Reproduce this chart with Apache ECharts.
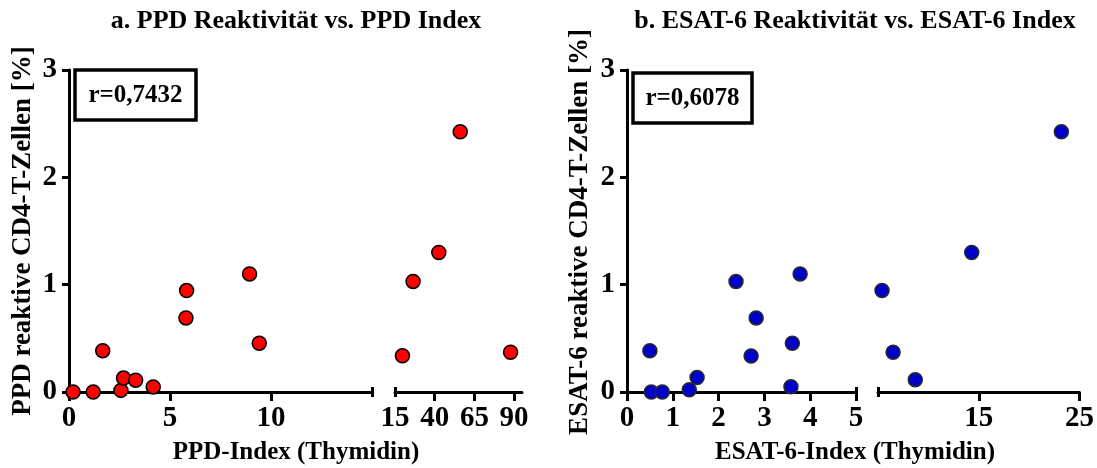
<!DOCTYPE html>
<html>
<head>
<meta charset="utf-8">
<script src="https://cdn.jsdelivr.net/npm/echarts@6/dist/echarts.min.js"></script>
<style>
  html,body{margin:0;padding:0;background:#fff;}
  #chart{width:1097px;height:468px;}
</style>
</head>
<body>
<div id="chart"></div>
<script>
// ---- data ----
const ppdIndex = [0.2, 1.2, 1.67, 2.57, 2.7, 3.3, 4.17, 5.82, 5.79, 8.94, 9.42, 19.7, 26.4, 42.6, 56.1, 87.8];
const ppdReact = [0, 0, 0.385, 0.015, 0.13, 0.11, 0.047, 0.945, 0.69, 1.10, 0.455, 0.337, 1.03, 1.30, 2.425, 0.37];
const esatIndex = [0.5, 0.53, 0.77, 1.36, 1.53, 2.38, 2.82, 2.71, 3.78, 3.61, 3.58, 5.4, 6.5, 8.7, 14.3, 23.2];
const esatReact = [0.385, 0, 0, 0.02, 0.135, 1.03, 0.69, 0.335, 1.10, 0.455, 0.048, 0.945, 0.37, 0.115, 1.30, 2.425];

const ppdBreak = 15, esatBreak = 5;
const ppdLowTicks = [0, 5, 10], ppdHighTicks = [40, 65, 90], ppdHighLabels = [15, 40, 65, 90];
const esatLowTicks = [0, 1, 2, 3, 4, 5], esatHighTicks = [15, 25];
const yMin = 0, yMax = 3, yStep = 1;

const titles = ['a. PPD Reaktivität vs. PPD Index', 'b. ESAT-6 Reaktivität vs. ESAT-6 Index'];
const xNames = ['PPD-Index (Thymidin)', 'ESAT-6-Index (Thymidin)'];
const yNames = ['PPD reaktive CD4-T-Zellen [%]', 'ESAT-6 reaktive CD4-T-Zellen [%]'];
const rLabels = ['r=0,7432', 'r=0,6078'];

// ---- chart ----
const FONT = '"Liberation Serif","Times New Roman",serif';
const chart = echarts.init(document.getElementById('chart'));

const grids = [
  { left: 69,  top: 70, width: 303, height: 322 },
  { left: 395, top: 70, width: 127, height: 322 },
  { left: 627, top: 70, width: 229, height: 322 },
  { left: 878, top: 70, width: 204, height: 322 },
];

const lbl = { color: '#000', fontFamily: 'Liberation Serif', fontWeight: 'bold', fontSize: 29 };

function xAxis(grid, min, max, ticks, labels){
  return {
    type: 'value', gridIndex: grid, min, max, position: 'bottom',
    axisLine: { onZero: false, lineStyle: { color: '#000', width: 3 } },
    axisTick: { length: 9, lineStyle: { color: '#000', width: 3 }, customValues: ticks },
    axisLabel: { ...lbl, margin: 12, customValues: labels },
    splitLine: { show: false },
  };
}
// small vertical caps at the axis break
function capAxis(grid, min, max, at){
  return {
    type: 'value', gridIndex: grid, min, max, position: 'bottom', offset: -5,
    axisLine: { show: false, onZero: false },
    axisTick: { length: 10, lineStyle: { color: '#000', width: 3 }, customValues: [at] },
    axisLabel: { show: false }, splitLine: { show: false },
  };
}
function yAxis(grid, show){
  return {
    type: 'value', gridIndex: grid, min: yMin, max: yMax, interval: yStep, show,
    axisLine: { show: true, lineStyle: { color: '#000', width: 3 } },
    axisTick: { show: true, length: 7, lineStyle: { color: '#000', width: 3 } },
    axisLabel: { ...lbl, margin: 12 },
    splitLine: { show: false },
  };
}

function pts(xs, ys, test){
  return xs.map((x, i) => [x, ys[i]]).filter(p => test(p[0]));
}
function scatter(idx, data, fill, border){
  return {
    type: 'scatter', xAxisIndex: idx, yAxisIndex: idx, data, clip: false,
    symbolSize: 14, itemStyle: { color: fill, borderColor: border, borderWidth: 1.5, opacity: 1 },
  };
}

function text(x, y, t, size, rot){
  return {
    type: 'text', x, y, rotation: rot || 0,
    style: { text: t, fill: '#000', font: 'bold ' + size + 'px ' + FONT, align: 'center', verticalAlign: 'middle' },
  };
}
function rbox(x, y, w, h, t){
  return {
    type: 'group', children: [
      { type: 'rect', shape: { x, y, width: w, height: h }, style: { fill: '#fff', stroke: '#000', lineWidth: 3.5 } },
      text(x + w / 2, y + h / 2 + 1, t, 25),
    ]
  };
}

chart.setOption({
  backgroundColor: '#fff',
  animation: false,
  grid: grids,
  xAxis: [
    xAxis(0, 0, ppdBreak, ppdLowTicks, ppdLowTicks),
    xAxis(1, ppdBreak, 95, ppdHighTicks, ppdHighLabels),
    xAxis(2, 0, esatBreak, esatLowTicks, esatLowTicks),
    xAxis(3, esatBreak, 25, esatHighTicks, esatHighTicks),
    capAxis(0, 0, ppdBreak, ppdBreak),
    capAxis(1, ppdBreak, 95, ppdBreak),
    capAxis(2, 0, esatBreak, esatBreak),
    capAxis(3, esatBreak, 25, esatBreak),
  ],
  yAxis: [ yAxis(0, true), yAxis(1, false), yAxis(2, true), yAxis(3, false) ],
  series: [
    scatter(0, pts(ppdIndex, ppdReact, x => x <= ppdBreak), '#ff0000', '#000'),
    scatter(1, pts(ppdIndex, ppdReact, x => x > ppdBreak), '#ff0000', '#000'),
    scatter(2, pts(esatIndex, esatReact, x => x <= esatBreak), '#0000c8', '#2a2a2a'),
    scatter(3, pts(esatIndex, esatReact, x => x > esatBreak), '#0000c8', '#2a2a2a'),
  ],
  graphic: [
    text(296, 21, titles[0], 26),
    text(855, 21, titles[1], 26),
    text(296, 453, xNames[0], 25),
    text(855, 453, xNames[1], 25),
    text(23, 231, yNames[0], 27, Math.PI / 2),
    text(580, 232, yNames[1], 27, Math.PI / 2),
    rbox(75, 70, 121, 50, rLabels[0]),
    rbox(633, 73, 119, 50, rLabels[1]),
  ],
});
</script>
</body>
</html>
